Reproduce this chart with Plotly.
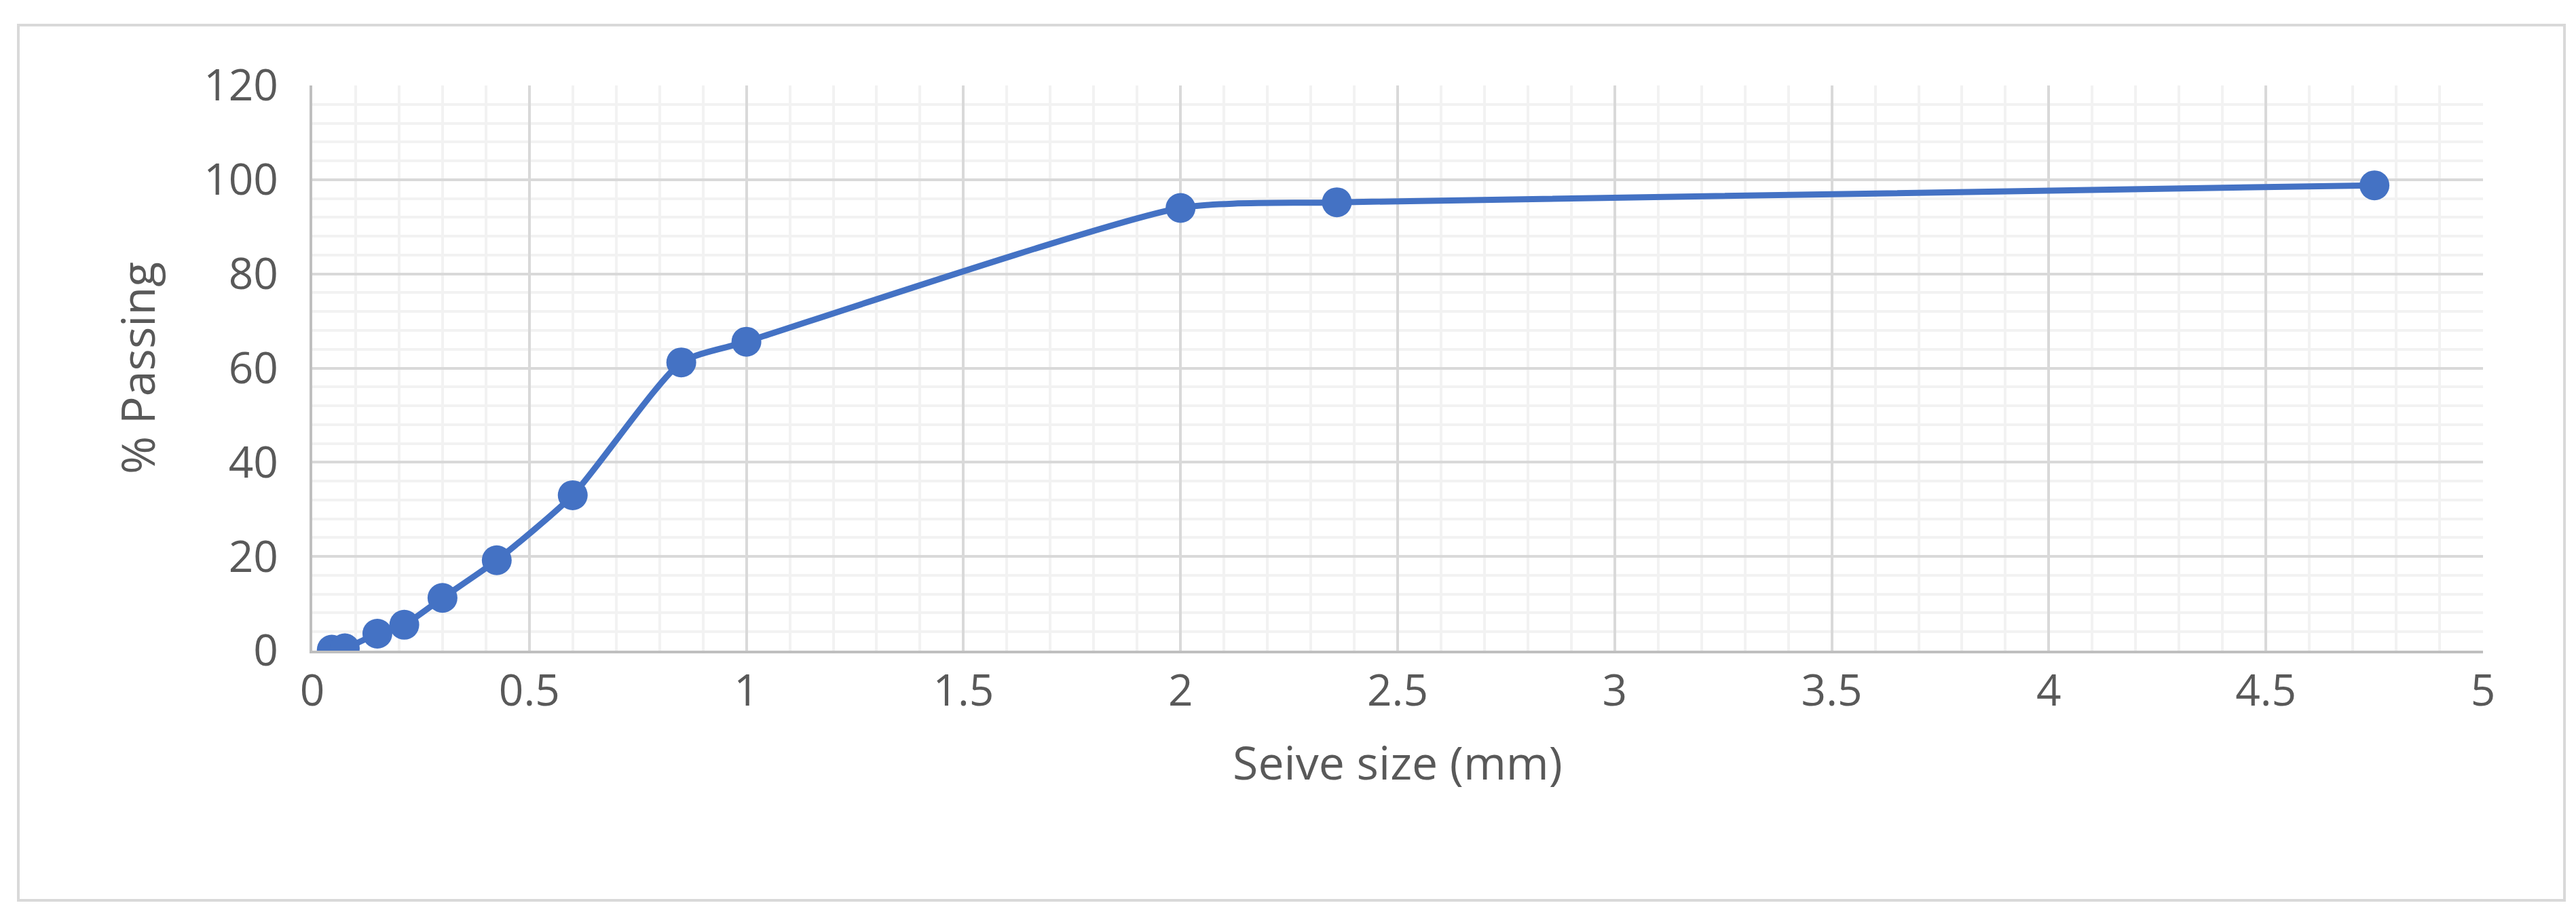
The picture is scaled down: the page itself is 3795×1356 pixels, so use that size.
import plotly.graph_objects as go

sieve_mm = [0.045, 0.075, 0.15, 0.212, 0.3, 0.425, 0.6, 0.85, 1.0, 2.0, 2.36, 4.75]
passing = [0.2, 0.5, 3.6, 5.5, 11.2, 19.2, 33.0, 61.2, 65.6, 94.0, 95.2, 98.8]

W, H = 3795, 1356
fig = go.Figure(go.Scatter(
    x=sieve_mm, y=passing, mode="lines+markers",
    line=dict(color="#4472C4", width=9, shape="spline", smoothing=0.6),
    marker=dict(color="#4472C4", size=44),
))
font = dict(family="Open Sans", size=64, color="#595959")
tfont = dict(family="Open Sans", size=68, color="#595959")
fig.update_layout(
    width=W, height=H, paper_bgcolor="white", plot_bgcolor="white",
    margin=dict(l=452, r=145, t=118, b=405), showlegend=False, font=font,
    shapes=[dict(type="rect", xref="paper", yref="paper", x0=-433/3198, x1=1+120/3198,
                 y0=-368/833, y1=1+89/833, line=dict(color="#D9D9D9", width=4))],
)
fig.update_xaxes(range=[0, 5], dtick=0.5, showgrid=True, gridcolor="#D9D9D9", gridwidth=4,
                 minor=dict(dtick=0.1, showgrid=True, gridcolor="#F2F2F2", gridwidth=4),
                 showline=True, linecolor="#BFBFBF", linewidth=4, zeroline=False,
                 ticks="", title=dict(text="Seive size (mm)", font=tfont, standoff=45),
                 tickfont=font)
fig.update_yaxes(range=[0, 120], dtick=20, showgrid=True, gridcolor="#D9D9D9", gridwidth=4,
                 minor=dict(dtick=4, showgrid=True, gridcolor="#F2F2F2", gridwidth=4),
                 showline=True, linecolor="#BFBFBF", linewidth=4, zeroline=False,
                 ticks="", title=dict(text="% Passing", font=tfont, standoff=50),
                 tickfont=font, ticksuffix="  ")
fig.write_html("out.html")
